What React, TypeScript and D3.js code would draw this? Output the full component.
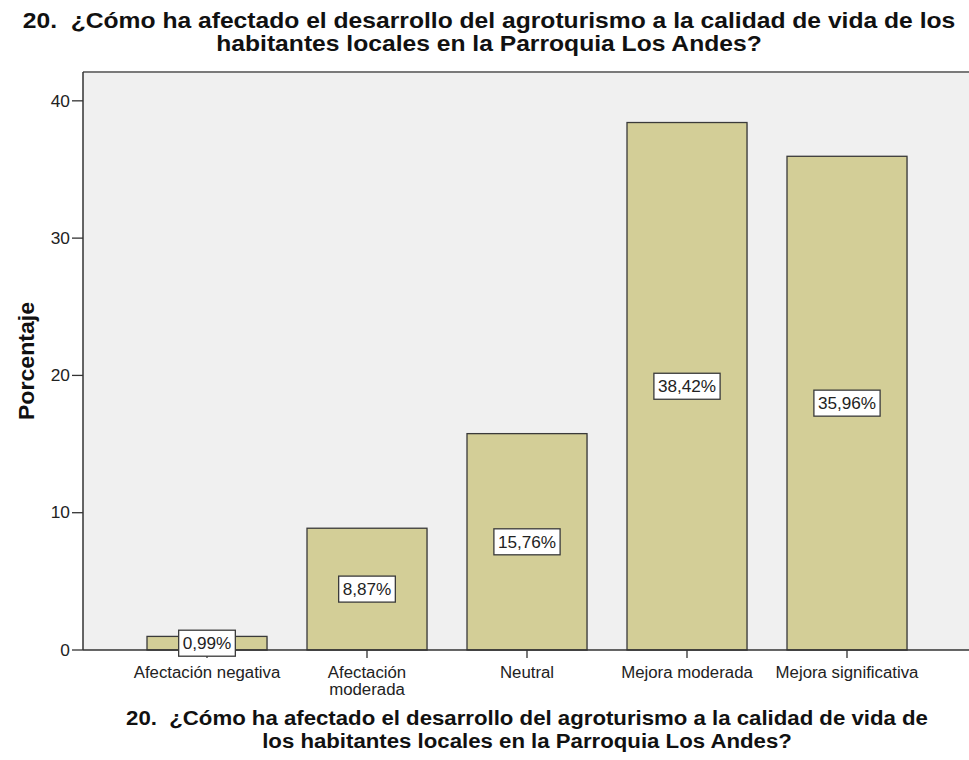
import React, { useEffect, useRef } from "react";
import * as d3 from "d3";

const categories = ["Afectación negativa", "Afectación moderada", "Neutral", "Mejora moderada", "Mejora significativa"];
const categoryLines = [["Afectación negativa"], ["Afectación", "moderada"], ["Neutral"], ["Mejora moderada"], ["Mejora significativa"]];
const values = [0.99, 8.87, 15.76, 38.42, 35.96];
const valueLabels = ["0,99%", "8,87%", "15,76%", "38,42%", "35,96%"];
const yTicks = [0, 10, 20, 30, 40];
const titleLines = ["20.  ¿Cómo ha afectado el desarrollo del agroturismo a la calidad de vida de los", "habitantes locales en la Parroquia Los Andes?"];
const xTitleLines = ["20.  ¿Cómo ha afectado el desarrollo del agroturismo a la calidad de vida de", "los habitantes locales en la Parroquia Los Andes?"];
const yTitle = "Porcentaje";

const W = 969;
const H = 760;
const FONT = "'Liberation Sans', Arial, Helvetica, sans-serif";

function stretch(sel: d3.Selection<SVGTextElement, unknown, null, undefined>, factor: number) {
  const len = (sel.node() as SVGTextElement).getComputedTextLength();
  sel.attr("textLength", len * factor).attr("lengthAdjust", "spacingAndGlyphs");
  return len * factor;
}

export default function App() {
  const ref = useRef<SVGSVGElement | null>(null);

  useEffect(() => {
    const svg = d3.select(ref.current);
    svg.selectAll("*").remove();
    const left = 83, top = 72, bottom = 650;
    const y = d3.scaleLinear().domain([0, 42.1]).range([bottom, top]);
    const x = d3.scaleBand<string>().domain(categories).range([127, 927]).paddingInner(0.25).paddingOuter(0.125);

    svg.append("rect").attr("x", 0).attr("y", 0).attr("width", W).attr("height", H).attr("fill", "#ffffff");
    svg.append("rect").attr("x", left).attr("y", top).attr("width", W - left + 10).attr("height", bottom - top).attr("fill", "#f0f0f0");
    svg.append("line").attr("x1", left).attr("x2", W + 5).attr("y1", top).attr("y2", top).attr("stroke", "#7a7a7a").attr("stroke-width", 2);

    // bars
    const g = svg.append("g");
    values.forEach((v, i) => {
      const c = categories[i];
      g.append("rect")
        .attr("x", x(c)! + 1).attr("y", y(v) + 1)
        .attr("width", x.bandwidth()).attr("height", bottom - y(v))
        .attr("fill", "#b0b0b0").attr("opacity", 0.5);
      g.append("rect")
        .attr("x", x(c)!).attr("y", y(v))
        .attr("width", x.bandwidth()).attr("height", bottom - y(v))
        .attr("fill", "#d3ce97").attr("stroke", "#3a3a3a").attr("stroke-width", 1.3);
    });

    // axes
    svg.append("line").attr("x1", left).attr("x2", left).attr("y1", top).attr("y2", bottom).attr("stroke", "#333").attr("stroke-width", 1.5);
    svg.append("line").attr("x1", left).attr("x2", W + 5).attr("y1", bottom).attr("y2", bottom).attr("stroke", "#333").attr("stroke-width", 1.5);

    yTicks.forEach((t) => {
      svg.append("line").attr("x1", left - 11).attr("x2", left).attr("y1", y(t)).attr("y2", y(t)).attr("stroke", "#333").attr("stroke-width", 1.3);
      const tt = svg.append("text").attr("x", left - 13).attr("y", y(t)).attr("dy", "0.36em").attr("text-anchor", "end")
        .attr("font-family", FONT).attr("font-size", 16).attr("fill", "#222").text(String(t));
      stretch(tt as any, 1.08);
    });

    categories.forEach((c, i) => {
      const cx = x(c)! + x.bandwidth() / 2;
      svg.append("line").attr("x1", cx).attr("x2", cx).attr("y1", bottom).attr("y2", bottom + 8).attr("stroke", "#333").attr("stroke-width", 1.3);
      categoryLines[i].forEach((ln, j) => {
        const tt = svg.append("text").attr("x", cx).attr("y", 678 + j * 17).attr("text-anchor", "middle")
          .attr("font-family", FONT).attr("font-size", 16).attr("fill", "#222").text(ln);
        stretch(tt as any, 1.05);
      });
    });

    // value labels
    values.forEach((v, i) => {
      const c = categories[i];
      const cx = x(c)! + x.bandwidth() / 2;
      const cy = y(v / 2);
      const grp = svg.append("g");
      const rect = grp.append("rect");
      const txt = grp.append("text").attr("x", cx).attr("y", cy).attr("dy", "0.36em").attr("text-anchor", "middle")
        .attr("font-family", FONT).attr("font-size", 16.5).attr("fill", "#222").text(valueLabels[i]);
      const tw = stretch(txt as any, 1.04);
      rect.attr("x", cx - tw / 2 - 4).attr("y", cy - 13).attr("width", tw + 8).attr("height", 26)
        .attr("fill", "#ffffff").attr("stroke", "#3a3a3a").attr("stroke-width", 1.3);
    });

    // titles
    titleLines.forEach((ln, j) => {
      const tt = svg.append("text").attr("x", 489).attr("y", 28 + j * 23).attr("text-anchor", "middle")
        .style("white-space", "pre")
        .attr("font-family", FONT).attr("font-weight", "bold").attr("font-size", 22).attr("fill", "#111").text(ln);
      stretch(tt as any, 1.12);
    });
    xTitleLines.forEach((ln, j) => {
      const tt = svg.append("text").attr("x", 527).attr("y", 725 + j * 23).attr("text-anchor", "middle")
        .style("white-space", "pre")
        .attr("font-family", FONT).attr("font-weight", "bold").attr("font-size", 20).attr("fill", "#111").text(ln);
      stretch(tt as any, 1.11);
    });
    const yt = svg.append("text").attr("transform", `translate(34,${(top + bottom) / 2}) rotate(-90)`).attr("text-anchor", "middle")
      .attr("font-family", FONT).attr("font-weight", "bold").attr("font-size", 22).attr("fill", "#111").text(yTitle);
    stretch(yt as any, 1.05);
  }, []);

  return (
    <svg ref={ref} width={W} height={H} style={{ position: "absolute", left: 0, top: 0, display: "block" }} />
  );
}
